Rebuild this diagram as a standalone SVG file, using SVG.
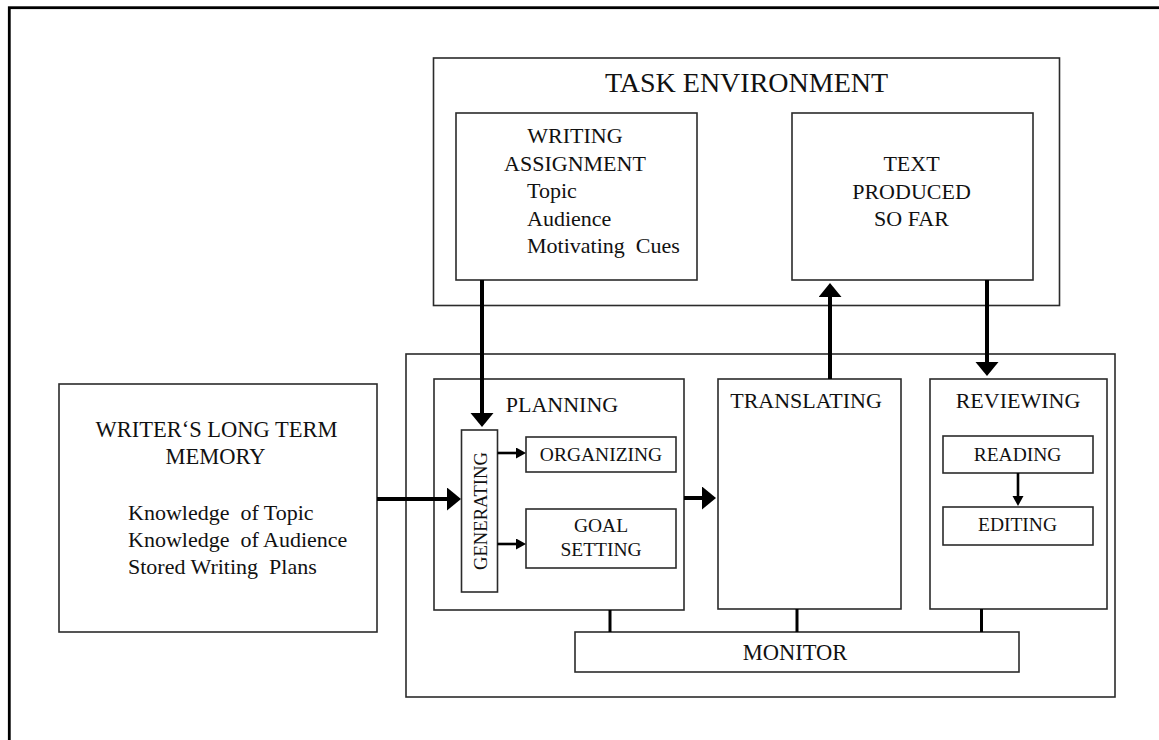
<svg xmlns="http://www.w3.org/2000/svg" width="1159" height="740" viewBox="0 0 1159 740">
  <style>
    .box { fill: #ffffff; stroke: #2b2b2b; stroke-width: 1.6; }
    .frame { fill: none; stroke: #000000; stroke-width: 2.8; }
    .t { font-family: "Liberation Serif", "Times New Roman", serif; fill: #111111; }
    .c { text-anchor: middle; }
    .big { stroke: #000000; stroke-width: 4; fill: none; }
    .small { stroke: #000000; stroke-width: 2.6; fill: none; }
    .link { stroke: #000000; stroke-width: 3; fill: none; }
  </style>
  <defs>
    <marker id="headBig" markerUnits="userSpaceOnUse" markerWidth="15" markerHeight="24" refX="0" refY="11.5" orient="auto">
      <path d="M0,0 L14,11.5 L0,23 z" fill="#000000"/>
    </marker>
    <marker id="headSmall" markerUnits="userSpaceOnUse" markerWidth="11" markerHeight="12" refX="0" refY="5.5" orient="auto">
      <path d="M0,0 L10,5.5 L0,11 z" fill="#000000"/>
    </marker>
  </defs>

  <rect width="1159" height="740" fill="#ffffff"/>

  <!-- page frame, running off the right and bottom edges -->
  <rect class="frame" x="9.3" y="7.7" width="1200" height="800"/>

  <!-- task environment -->
  <g id="task-environment">
    <rect class="box" x="433.5" y="58" width="626" height="247.5"/>
    <text class="t c" x="746.5" y="92" font-size="28">TASK ENVIRONMENT</text>
  </g>

  <g id="writing-assignment">
    <rect class="box" x="456" y="113" width="241" height="167"/>
    <text class="t c" x="575" y="143" font-size="22">WRITING</text>
    <text class="t c" x="575" y="170.5" font-size="22">ASSIGNMENT</text>
    <text class="t" x="527" y="198" font-size="22">Topic</text>
    <text class="t" x="527" y="225.5" font-size="22">Audience</text>
    <text class="t" x="527" y="253" font-size="22" xml:space="preserve">Motivating  Cues</text>
  </g>

  <g id="text-produced">
    <rect class="box" x="792" y="113" width="241" height="167"/>
    <text class="t c" x="911.5" y="171" font-size="22">TEXT</text>
    <text class="t c" x="911.5" y="198.5" font-size="22">PRODUCED</text>
    <text class="t c" x="911.5" y="226" font-size="22">SO FAR</text>
  </g>

  <!-- long term memory -->
  <g id="long-term-memory">
    <rect class="box" x="59" y="384" width="318" height="248"/>
    <text class="t c" x="216.5" y="437" font-size="22.5">WRITER‘S LONG TERM</text>
    <text class="t c" x="215.5" y="464" font-size="22.5">MEMORY</text>
    <text class="t" x="128" y="520" font-size="22" xml:space="preserve">Knowledge  of Topic</text>
    <text class="t" x="128" y="547" font-size="22" xml:space="preserve">Knowledge  of Audience</text>
    <text class="t" x="128" y="574" font-size="22" xml:space="preserve">Stored Writing  Plans</text>
  </g>

  <!-- writing processes -->
  <g id="processes">
    <rect class="box" x="406" y="354" width="709" height="343"/>
  </g>

  <g id="planning">
    <rect class="box" x="434" y="379" width="250" height="231"/>
    <text class="t c" x="562" y="411.5" font-size="22">PLANNING</text>
  </g>

  <g id="generating">
    <rect class="box" x="461.5" y="430" width="36" height="162"/>
    <text class="t c" transform="translate(487,511) rotate(-90)" x="0" y="0" font-size="19" textLength="118" lengthAdjust="spacingAndGlyphs">GENERATING</text>
  </g>

  <g id="organizing">
    <rect class="box" x="526" y="437" width="150" height="35"/>
    <text class="t c" x="601" y="461" font-size="19.5">ORGANIZING</text>
  </g>

  <g id="goal-setting">
    <rect class="box" x="526" y="509" width="150" height="59"/>
    <text class="t c" x="601" y="532" font-size="19.5">GOAL</text>
    <text class="t c" x="601" y="556" font-size="19.5">SETTING</text>
  </g>

  <g id="translating">
    <rect class="box" x="718" y="379" width="183" height="230"/>
    <text class="t c" x="806" y="408" font-size="22">TRANSLATING</text>
  </g>

  <g id="reviewing">
    <rect class="box" x="930" y="379" width="177" height="230"/>
    <text class="t c" x="1018" y="408" font-size="22">REVIEWING</text>
  </g>

  <g id="reading">
    <rect class="box" x="943" y="436" width="150" height="37"/>
    <text class="t c" x="1017.5" y="461" font-size="19.5">READING</text>
  </g>

  <g id="editing">
    <rect class="box" x="943" y="507" width="150" height="38"/>
    <text class="t c" x="1017.5" y="531" font-size="19.5">EDITING</text>
  </g>

  <g id="monitor">
    <rect class="box" x="575" y="632" width="444" height="40"/>
    <text class="t c" x="795" y="660" font-size="22.5">MONITOR</text>
  </g>

  <!-- connectors -->
  <g id="connectors">
    <line class="big" x1="482" y1="280" x2="482" y2="413" marker-end="url(#headBig)"/>
    <line class="big" x1="830" y1="379" x2="830" y2="297" marker-end="url(#headBig)"/>
    <line class="big" x1="987" y1="280" x2="987" y2="362" marker-end="url(#headBig)"/>
    <line class="big" x1="377" y1="499" x2="447" y2="499" marker-end="url(#headBig)"/>
    <line class="big" x1="684" y1="498" x2="702" y2="498" marker-end="url(#headBig)"/>
    <line class="small" x1="497.5" y1="453" x2="516" y2="453" marker-end="url(#headSmall)"/>
    <line class="small" x1="497.5" y1="544" x2="516" y2="544" marker-end="url(#headSmall)"/>
    <line class="small" x1="1018" y1="473" x2="1018" y2="496" marker-end="url(#headSmall)"/>
    <line class="link" x1="610" y1="610" x2="610" y2="632"/>
    <line class="link" x1="797" y1="609" x2="797" y2="632"/>
    <line class="link" x1="981.5" y1="609" x2="981.5" y2="632"/>
  </g>
</svg>
